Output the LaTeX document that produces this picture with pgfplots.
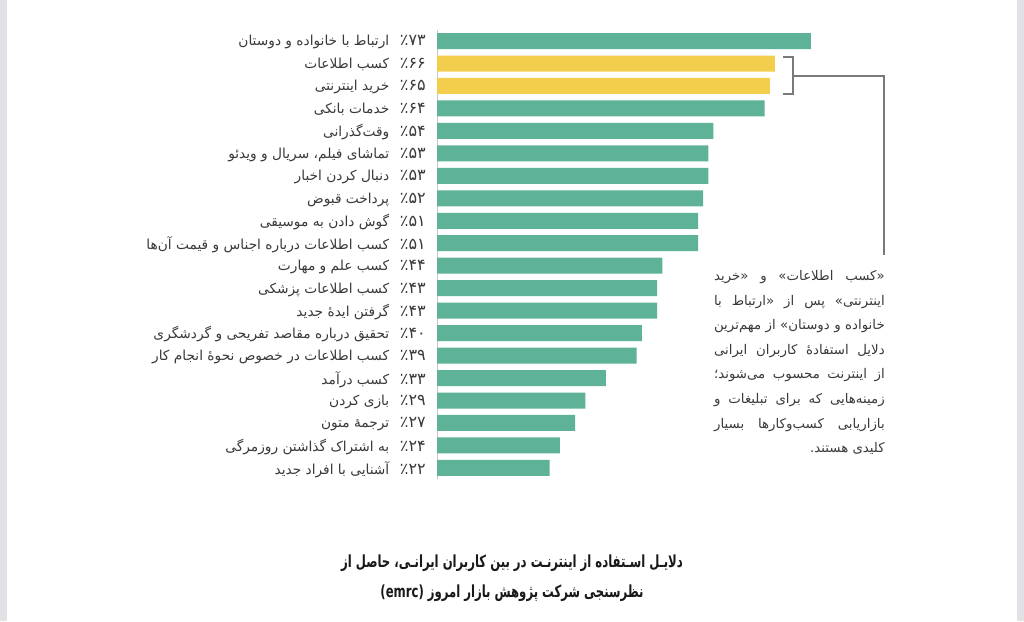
\documentclass[border=0pt]{standalone}
\usepackage{fontspec}
\usepackage{pgfplots}
\pgfplotsset{compat=1.18}
\TeXXeTstate=1
\newfontfamily\fa[Script=Arabic]{DejaVu Sans}
\newfontfamily\fat[Script=Arabic,FakeStretch=0.7]{DejaVu Sans}
\definecolor{bargreen}{HTML}{5EB298}
\definecolor{baryellow}{HTML}{F2CE4C}
\definecolor{txt}{HTML}{3A3A3A}
\definecolor{linegray}{HTML}{7A7A7A}
\definecolor{edge}{HTML}{E2E2E6}
% one tick label: RTL caption, then the percentage next to the bar
\newcommand\yl[2]{{\fa #1}\hspace{8pt}{\fa\fontsize{12}{12}\selectfont ٪#2}}
\begin{document}
\begin{tikzpicture}[x=0.75pt,y=0.75pt]
\fill[white] (0,0) rectangle (1024,-621);
\fill[edge] (0,0) rectangle (7,-621);
\fill[edge] (1017,0) rectangle (1024,-621);
\coordinate (A) at (437,-29.8);
\begin{axis}[
  at={(A)}, anchor=north west,
  scale only axis, width=384pt, height=337pt,
  xmin=0, xmax=100, ymin=-0.5, ymax=19.5,
  y dir=reverse,
  xbar, bar width=12pt, bar shift=0pt,
  hide x axis,
  axis y line*=left,
  y axis line style={draw=gray!45, line width=0.6pt, -},
  ytick={0,...,19},
  ytick style={draw=none},
  yticklabel style={inner sep=0pt, xshift=-4pt, yshift=-1pt, anchor=east,
    text=txt, font=\fontsize{10.3}{11}\selectfont},
  yticklabels={
    {\yl{\beginR ارتباط با خانواده و دوستان\endR}{۷۳}},
    {\yl{\beginR کسب اطلاعات\endR}{۶۶}},
    {\yl{\beginR خرید اینترنتی\endR}{۶۵}},
    {\yl{\beginR خدمات بانکی\endR}{۶۴}},
    {\yl{وقت‌گذرانی}{۵۴}},
    {\yl{\beginR تماشای فیلم، سریال و ویدئو\endR}{۵۳}},
    {\yl{\beginR دنبال کردن اخبار\endR}{۵۳}},
    {\yl{\beginR پرداخت قبوض\endR}{۵۲}},
    {\yl{\beginR گوش دادن به موسیقی\endR}{۵۱}},
    {\yl{\beginR کسب اطلاعات درباره اجناس و قیمت آن‌ها\endR}{۵۱}},
    {\yl{\beginR کسب علم و مهارت\endR}{۴۴}},
    {\yl{\beginR کسب اطلاعات پزشکی\endR}{۴۳}},
    {\yl{\beginR گرفتن ایدهٔ جدید\endR}{۴۳}},
    {\yl{\beginR تحقیق درباره مقاصد تفریحی و گردشگری\endR}{۴۰}},
    {\yl{\beginR کسب اطلاعات در خصوص نحوهٔ انجام کار\endR}{۳۹}},
    {\yl{\beginR کسب درآمد\endR}{۳۳}},
    {\yl{\beginR بازی کردن\endR}{۲۹}},
    {\yl{\beginR ترجمهٔ متون\endR}{۲۷}},
    {\yl{\beginR به اشتراک گذاشتن روزمرگی\endR}{۲۴}},
    {\yl{\beginR آشنایی با افراد جدید\endR}{۲۲}}},
  clip=false,
]
\addplot[draw=none, fill=bargreen] coordinates {
  (73,0) (64,3) (54,4) (53,5) (53,6) (52,7) (51,8) (51,9) (44,10)
  (43,11) (43,12) (40,13) (39,14) (33,15) (29,16) (27,17) (24,18) (22,19)};
\addplot[draw=none, fill=baryellow] coordinates {(66,1) (65,2)};
\end{axis}
% bracket round the two yellow bars and the leader to the note
\draw[linegray, line width=1pt]
  (783,-57) -- (793,-57) -- (793,-94) -- (783,-94)
  (793,-76) -- (884,-76) -- (884,-255);
\node[anchor=north east, inner sep=0pt, text width=128pt, align=justify,
  text=txt, font=\fa\fontsize{10}{18.45}\selectfont] at (885,-270) {%
  \color{txt}\beginR «کسب اطلاعات» و «خرید\linebreak
  اینترنتی» پس از «ارتباط با\linebreak
  خانواده و دوستان» از مهم‌ترین\linebreak
  دلایل استفادهٔ کاربران ایرانی\linebreak
  از اینترنت محسوب می‌شوند؛\linebreak
  زمینه‌هایی که برای تبلیغات و\linebreak
  بازاریابی کسب‌وکارها بسیار\linebreak
  کلیدی هستند.\par};
\node[text=black!90, font=\fat\bfseries\fontsize{12.5}{14}\selectfont]
  at (512,-563) {\beginR دلایـل اسـتفاده از اینترنـت در بین کاربران ایرانـی، حاصل از\endR};
\node[text=black!90, font=\fat\bfseries\fontsize{12.5}{14}\selectfont]
  at (512,-593) {\beginR نظرسنجی شرکت پژوهش بازار امروز \beginL(emrc)\endL\endR};
\end{tikzpicture}
\end{document}
